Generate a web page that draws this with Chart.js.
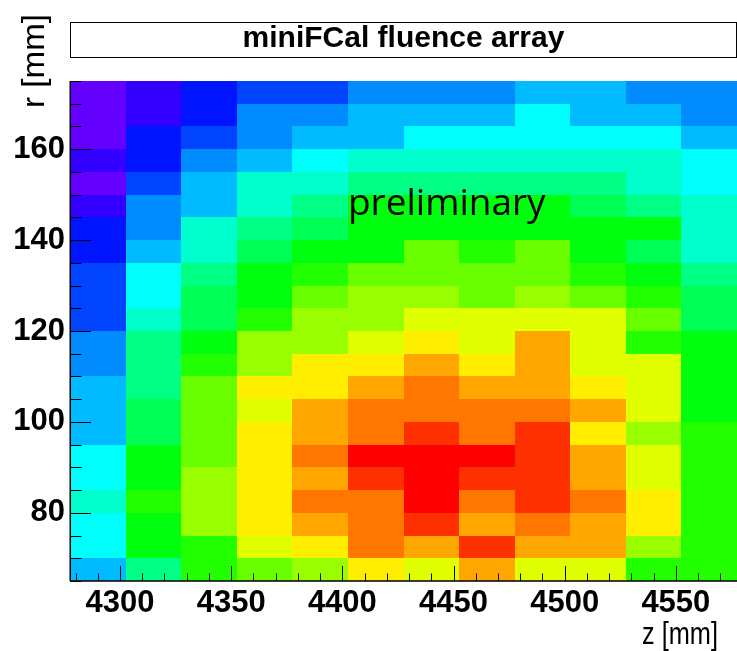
<!DOCTYPE html>
<html><head><meta charset="utf-8">
<script src="https://cdn.jsdelivr.net/npm/chart.js@4.4.1/dist/chart.umd.min.js"></script>
<style>html,body{margin:0;padding:0;background:#fff;}#wrap{width:737px;height:651px;position:relative;}</style>
</head><body><div id="wrap"><canvas id="c" width="737" height="651"></canvas></div>
<script>
const chartTitle = 'miniFCal fluence array';
const xTitle = 'z [mm]';
const yTitle = 'r [mm]';
const watermark = 'preliminary';
// bin edges (mm)
const zBinEdges = [4277.5,4302.5,4327.5,4352.5,4377.5,4402.5,4427.5,4452.5,4477.5,4502.5,4527.5,4552.5,4577.5];
const rBinEdges = [175,170,165,160,155,150,145,140,135,130,125,120,115,110,105,100,95,90,85,80,75,70,65];
const xTickLabels = [4300,4350,4400,4450,4500,4550];
const yTickLabels = [80,100,120,140,160];
// relative fluence (contour level units), rows from r=175 (top) down to r=65
const fluence = [
  [0,1,2,3,3,4,4,4,5,5,4,4],
  [0,1,2,4,4,5,5,5,6,5,5,4],
  [0,2,3,4,5,5,6,6,6,6,6,5],
  [1,2,4,5,6,7,7,7,7,7,7,6],
  [0,3,5,7,7,8,8,8,8,8,7,6],
  [1,4,5,7,8,10,10,10,10,9,8,7],
  [2,4,7,8,9,10,10,10,10,10,10,7],
  [2,5,7,9,10,10,12,11,12,10,9,7],
  [3,6,8,10,11,12,12,12,12,11,10,8],
  [3,6,9,10,12,13,13,12,13,12,11,9],
  [3,7,9,11,13,13,14,14,14,14,12,9],
  [4,8,10,13,13,14,15,14,16,14,11,10],
  [4,8,11,13,15,15,16,15,16,14,14,10],
  [5,8,12,15,15,16,17,16,16,15,14,10],
  [5,9,12,14,16,17,17,17,17,16,14,10],
  [5,9,12,15,16,17,18,17,18,15,13,11],
  [6,10,12,15,17,19,19,19,18,16,14,11],
  [6,10,13,15,16,18,19,18,18,16,14,11],
  [7,11,13,15,17,17,19,17,18,17,15,11],
  [6,10,13,15,16,17,18,16,17,16,15,11],
  [6,10,11,14,15,17,16,18,16,16,13,11],
  [5,8,11,12,13,15,14,16,14,14,11,11]
];
const zMin = 0, zMax = 20, nContours = 20, nPalette = 50;

function paletteColor(v){
  let k = Math.floor((v - zMin) * nContours / (zMax - zMin) + 0.01);
  k = Math.max(0, Math.min(nContours - 1, k));
  const i = Math.floor((k + 0.99) * nPalette / nContours);
  const hue = 280 - (i + 1) * (280 / nPalette);
  return 'hsl(' + hue.toFixed(2) + ',100%,50%)';
}

const cells = [];
fluence.forEach((row, ri) => row.forEach((v, ci) => {
  cells.push({x:(zBinEdges[ci]+zBinEdges[ci+1])/2, y:(rBinEdges[ri]+rBinEdges[ri+1])/2,
    x0:zBinEdges[ci], x1:zBinEdges[ci+1], y0:rBinEdges[ri+1], y1:rBinEdges[ri], v:v});
}));

const heatPlugin = {
  id:'heat',
  beforeDatasetsDraw(chart){
    const ctx = chart.ctx, xs = chart.scales.x, ys = chart.scales.y;
    ctx.save();
    chart.data.datasets[0].data.forEach(c => {
      const l = Math.round(xs.getPixelForValue(c.x0)), r = Math.round(xs.getPixelForValue(c.x1));
      const t = Math.round(ys.getPixelForValue(c.y1)), b = Math.round(ys.getPixelForValue(c.y0));
      ctx.fillStyle = paletteColor(c.v);
      ctx.fillRect(l, t, r - l, b - t);
    });
    ctx.restore();
  },
  afterDatasetsDraw(chart){
    const ctx = chart.ctx, xs = chart.scales.x, ys = chart.scales.y, a = chart.chartArea;
    ctx.save();
    // watermark
    ctx.fillStyle = '#000';
    ctx.font = '37px "Open Sans", "Noto Sans", sans-serif';
    ctx.textAlign = 'left'; ctx.textBaseline = 'alphabetic';
    ctx.fillText(watermark, xs.getPixelForValue(4402.5), ys.getPixelForValue(145.5));
    // ticks (inside)
    ctx.strokeStyle = '#000'; ctx.lineWidth = 1;
    ctx.beginPath();
    for (let z = 4280; z <= 4577; z += 10) {
      const px = Math.round(xs.getPixelForValue(z)) + 0.5;
      const len = xTickLabels.includes(z) ? 15 : 7.5;
      ctx.moveTo(px, a.bottom); ctx.lineTo(px, a.bottom - len);
    }
    for (let r = 65; r <= 175; r += 5) {
      const py = Math.round(ys.getPixelForValue(r)) + 0.5;
      const len = yTickLabels.includes(r) ? 21 : 11.5;
      ctx.moveTo(a.left, py); ctx.lineTo(a.left + len, py);
    }
    ctx.stroke();
    // axis lines
    ctx.lineWidth = 1.5;
    ctx.beginPath();
    ctx.moveTo(a.left + 0.25, a.top); ctx.lineTo(a.left + 0.25, a.bottom);
    ctx.moveTo(a.left, a.bottom); ctx.lineTo(a.right, a.bottom);
    ctx.stroke();
    ctx.restore();
  },
  afterDraw(chart){
    const ctx = chart.ctx, a = chart.chartArea;
    ctx.save();
    // title box
    ctx.strokeStyle = '#000'; ctx.lineWidth = 1;
    ctx.strokeRect(a.left + 0.5, 22.5, 666, 35);
    // x title, compressed to reference width
    ctx.fillStyle = '#000';
    ctx.font = '32px "Liberation Sans", Arial, sans-serif';
    ctx.textBaseline = 'alphabetic';
    let w = ctx.measureText(xTitle).width;
    ctx.save();
    ctx.translate(718, 644);
    ctx.scale(76 / w, 1);
    ctx.textAlign = 'right';
    ctx.fillText(xTitle, 0, 0);
    ctx.restore();
    // y title
    w = ctx.measureText(yTitle).width;
    ctx.save();
    ctx.translate(44, 108);
    ctx.rotate(-Math.PI / 2);
    ctx.scale(94 / w, 1);
    ctx.textAlign = 'left';
    ctx.fillText(yTitle, 0, 0);
    ctx.restore();
    ctx.restore();
  }
};

const tickFont = {family:'"Liberation Sans", Arial, Helvetica, sans-serif', size:31, weight:'bold'};
new Chart(document.getElementById('c'), {
  type:'scatter',
  data:{datasets:[{data:cells, pointRadius:0, pointHoverRadius:0, showLine:false}]},
  options:{
    responsive:false, animation:false, events:[],
    layout:{padding:{left:0,right:0,top:0,bottom:0}},
    plugins:{
      legend:{display:false}, tooltip:{enabled:false},
      title:{display:true, fullSize:false, text:chartTitle, color:'#000',
        font:{family:'"Liberation Sans", Arial, Helvetica, sans-serif', size:30, weight:'bold', lineHeight:1.2},
        padding:{top:21, bottom:24}}
    },
    scales:{
      x:{type:'linear', min:zBinEdges[0], max:zBinEdges[zBinEdges.length-1],
        afterBuildTicks:s=>{s.ticks = xTickLabels.map(v=>({value:v}));},
        afterFit:s=>{s.height = 70;},
        grid:{display:false, drawTicks:false}, border:{display:false},
        ticks:{font:tickFont, color:'#000', padding:4, maxRotation:0, autoSkip:false, callback:v=>String(v)}},
      y:{type:'linear', min:rBinEdges[rBinEdges.length-1], max:rBinEdges[0],
        afterBuildTicks:s=>{s.ticks = yTickLabels.map(v=>({value:v}));},
        afterFit:s=>{s.width = 70;},
        grid:{display:false, drawTicks:false}, border:{display:false},
        ticks:{font:tickFont, color:'#000', padding:5, autoSkip:false, callback:v=>String(v)}}
    }
  },
  plugins:[heatPlugin]
});
</script></body></html>
